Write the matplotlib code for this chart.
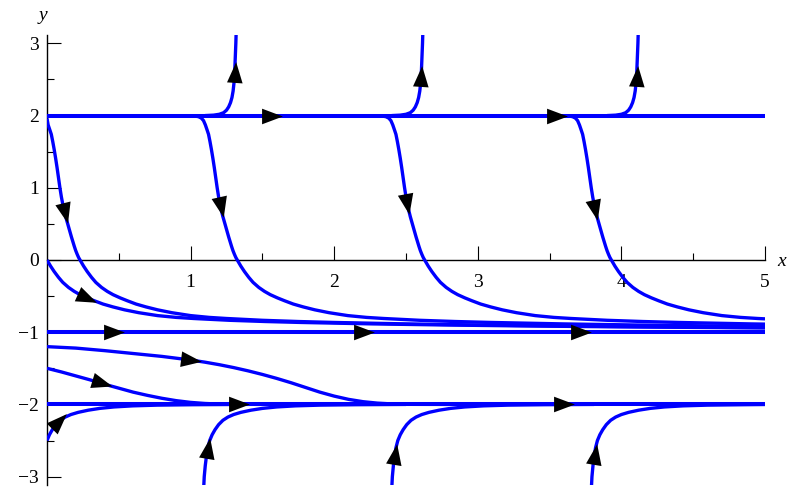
import numpy as np
import matplotlib
matplotlib.use("Agg")
import matplotlib.pyplot as plt
from matplotlib.markers import MarkerStyle
from matplotlib.transforms import Affine2D

# equilibrium solutions (horizontal lines)
eq_levels = [2, -1, -2]

# solution curves
# curves leaving y = 2 and falling towards y = -1
d1_x = [0, 0.008, 0.02, 0.03, 0.04, 0.05, 0.06, 0.07, 0.08, 0.09, 0.1, 0.11, 0.12, 0.13, 0.14, 0.15, 0.16,
        0.17, 0.18, 0.19, 0.2, 0.21, 0.22, 0.23,
        0.255, 0.28, 0.31, 0.34, 0.38, 0.42, 0.46, 0.51, 0.56, 0.62, 0.69, 0.77, 0.87, 1.0, 1.13, 1.25,
        1.5, 1.75, 2.0, 2.5, 3.0, 3.5, 4.0, 4.5, 5.0]
d1_y = [1.96, 1.87, 1.8, 1.74, 1.64, 1.53, 1.41, 1.28, 1.14, 1.0, 0.875, 0.77, 0.68, 0.6, 0.53, 0.46, 0.39,
        0.32, 0.255, 0.19, 0.13, 0.08, 0.035, 0,
        -0.085, -0.16, -0.24, -0.31, -0.38, -0.435, -0.48, -0.525, -0.565, -0.61, -0.65, -0.69, -0.73, -0.77,
        -0.795, -0.81, -0.835, -0.852, -0.865, -0.885, -0.9, -0.912, -0.922, -0.93, -0.937]

d2_x = [0.97, 1.025, 1.055, 1.075, 1.09, 1.103, 1.115, 1.125, 1.135, 1.145, 1.155, 1.165, 1.175,
        1.185, 1.195, 1.205, 1.215, 1.225, 1.235, 1.245, 1.255, 1.265, 1.275, 1.285, 1.295, 1.305, 1.315,
        1.325,
        1.35, 1.375, 1.405, 1.435, 1.475, 1.515, 1.555, 1.605, 1.655, 1.715, 1.785, 1.865, 1.965, 2.095,
        2.225, 2.345, 2.595, 2.845, 3.095, 3.595, 4.095, 4.595, 5.0]
d2_y = [1.999, 1.995, 1.985, 1.965, 1.93, 1.87, 1.8, 1.74, 1.64, 1.53, 1.41, 1.28, 1.14, 1.0, 0.875,
        0.77, 0.68, 0.6, 0.53, 0.46, 0.39, 0.32, 0.255, 0.19, 0.13, 0.08, 0.035, 0,
        -0.085, -0.16, -0.24, -0.31, -0.38, -0.435, -0.48, -0.525, -0.565, -0.61, -0.65, -0.69, -0.73, -0.77,
        -0.795, -0.81, -0.835, -0.852, -0.865, -0.885, -0.9, -0.912, -0.92]

d3_x = [2.275, 2.33, 2.36, 2.38, 2.395, 2.408, 2.42, 2.43, 2.44, 2.45, 2.46, 2.47, 2.48, 2.49, 2.5,
        2.51, 2.52, 2.53, 2.54, 2.55, 2.56, 2.57, 2.58, 2.59, 2.6, 2.61, 2.62, 2.63,
        2.655, 2.68, 2.71, 2.74, 2.78, 2.82, 2.86, 2.91, 2.96, 3.02, 3.09, 3.17, 3.27, 3.4, 3.53, 3.65,
        3.9, 4.15, 4.4, 4.9, 5.0]
d3_y = [1.999, 1.995, 1.985, 1.965, 1.93, 1.87, 1.8, 1.74, 1.64, 1.53, 1.41, 1.28, 1.14, 1.0, 0.875,
        0.77, 0.68, 0.6, 0.53, 0.46, 0.39, 0.32, 0.255, 0.19, 0.13, 0.08, 0.035, 0,
        -0.085, -0.16, -0.24, -0.31, -0.38, -0.435, -0.48, -0.525, -0.565, -0.61, -0.65, -0.69, -0.73, -0.77,
        -0.795, -0.81, -0.835, -0.852, -0.865, -0.885, -0.888]

d4_x = [3.575, 3.63, 3.66, 3.68, 3.695, 3.708, 3.72, 3.73, 3.74, 3.75, 3.76, 3.77, 3.78, 3.79, 3.8,
        3.81, 3.82, 3.83, 3.84, 3.85, 3.86, 3.87, 3.88, 3.89, 3.9, 3.91, 3.92, 3.93,
        3.955, 3.98, 4.01, 4.04, 4.08, 4.12, 4.16, 4.21, 4.26, 4.32, 4.39, 4.47, 4.57, 4.7, 4.83, 4.95, 5.0]
d4_y = [1.999, 1.995, 1.985, 1.965, 1.93, 1.87, 1.8, 1.74, 1.64, 1.53, 1.41, 1.28, 1.14, 1.0, 0.875,
        0.77, 0.68, 0.6, 0.53, 0.46, 0.39, 0.32, 0.255, 0.19, 0.13, 0.08, 0.035, 0,
        -0.085, -0.16, -0.24, -0.31, -0.38, -0.435, -0.48, -0.525, -0.565, -0.61, -0.65, -0.69, -0.73, -0.77,
        -0.795, -0.81, -0.815]

# curve from the origin towards y = -1
a_x = [0, 0.025, 0.05, 0.08, 0.11, 0.15, 0.19, 0.23, 0.28, 0.33, 0.39, 0.46, 0.54, 0.64, 0.77, 0.9, 1.02,
       1.27, 1.52, 1.77, 2.27, 2.77, 3.27, 3.77, 4.27, 4.77, 5.0]
a_y = [0, -0.085, -0.16, -0.24, -0.31, -0.38, -0.435, -0.48, -0.525, -0.565, -0.61, -0.65, -0.69, -0.73,
       -0.77, -0.795, -0.81, -0.835, -0.852, -0.865, -0.885, -0.9, -0.912, -0.922, -0.93, -0.937, -0.94]

# curves leaving y = 2 upwards
u1_x = [1.1, 1.16, 1.2, 1.23, 1.25, 1.265, 1.278, 1.288, 1.296, 1.302, 1.307, 1.311, 1.315, 1.318]
u1_y = [2.0, 2.006, 2.018, 2.04, 2.075, 2.12, 2.18, 2.25, 2.34, 2.45, 2.6, 2.8, 3.0, 3.2]
u2_x = [2.4, 2.46, 2.5, 2.53, 2.55, 2.565, 2.578, 2.588, 2.596, 2.602, 2.607, 2.611, 2.615, 2.618]
u2_y = [2.0, 2.006, 2.018, 2.04, 2.075, 2.12, 2.18, 2.25, 2.34, 2.45, 2.6, 2.8, 3.0, 3.2]
u3_x = [3.9, 3.96, 4.0, 4.03, 4.05, 4.065, 4.078, 4.088, 4.096, 4.102, 4.107, 4.111, 4.115, 4.118]
u3_y = [2.0, 2.006, 2.018, 2.04, 2.075, 2.12, 2.18, 2.25, 2.34, 2.45, 2.6, 2.8, 3.0, 3.2]

# curves between y = -1 and y = -2
m1_x = [0, 0.2, 0.4, 0.6, 0.8, 1.0, 1.1, 1.2, 1.3, 1.4, 1.5, 1.6, 1.7, 1.8, 1.9, 2.0, 2.1, 2.2, 2.3, 2.4,
        2.55, 2.8]
m1_y = [-1.2, -1.22, -1.255, -1.295, -1.335, -1.385, -1.415, -1.45, -1.49, -1.535, -1.585, -1.64, -1.7,
        -1.765, -1.83, -1.885, -1.93, -1.962, -1.982, -1.993, -1.999, -2.0]
m2_x = [0, 0.1, 0.2, 0.3, 0.4, 0.5, 0.6, 0.7, 0.8, 0.9, 1.0, 1.1, 1.2, 1.35, 1.6]
m2_y = [-1.5, -1.55, -1.605, -1.66, -1.72, -1.775, -1.83, -1.875, -1.915, -1.948, -1.972, -1.987, -1.995,
        -1.999, -2.0]

# curves rising from below towards y = -2
b1_x = [0, 0.017, 0.037, 0.062, 0.092, 0.127, 0.167, 0.217, 0.287, 0.367, 0.467, 0.597, 0.767, 1.017, 1.367]
b1_y = [-2.5, -2.42, -2.35, -2.28, -2.22, -2.175, -2.14, -2.11, -2.08, -2.055, -2.035, -2.02, -2.01, -2.004,
        -2.0]
b2_x = [1.09, 1.095, 1.102, 1.11, 1.12, 1.133, 1.15, 1.17, 1.195, 1.225, 1.26, 1.3, 1.35, 1.42, 1.5, 1.6,
        1.73, 1.9, 2.15, 2.5]
b2_y = [-3.2, -3.0, -2.85, -2.72, -2.6, -2.5, -2.42, -2.35, -2.28, -2.22, -2.175, -2.14, -2.11, -2.08, -2.055,
        -2.035, -2.02, -2.01, -2.004, -2.0]
b3_x = [2.4, 2.405, 2.412, 2.42, 2.43, 2.443, 2.46, 2.48, 2.505, 2.535, 2.57, 2.61, 2.66, 2.73, 2.81, 2.91,
        3.04, 3.21, 3.46, 3.81]
b3_y = [-3.2, -3.0, -2.85, -2.72, -2.6, -2.5, -2.42, -2.35, -2.28, -2.22, -2.175, -2.14, -2.11, -2.08, -2.055,
        -2.035, -2.02, -2.01, -2.004, -2.0]
b4_x = [3.79, 3.795, 3.802, 3.81, 3.82, 3.833, 3.85, 3.87, 3.895, 3.925, 3.96, 4.0, 4.05, 4.12, 4.2, 4.3,
        4.43, 4.6, 4.85, 5.0]
b4_y = [-3.2, -3.0, -2.85, -2.72, -2.6, -2.5, -2.42, -2.35, -2.28, -2.22, -2.175, -2.14, -2.11, -2.08, -2.055,
        -2.035, -2.02, -2.01, -2.004, -2.001]

x_ticks = [1, 2, 3, 4, 5]
y_ticks = [-3, -2, -1, 0, 1, 2, 3]

# where the arrowheads sit: (curve, coordinate used, value)
arrow_specs = [("eq2", "x", 1.57), ("eq2", "x", 3.55),
               ("eq-1", "x", 0.47), ("eq-1", "x", 2.21), ("eq-1", "x", 3.72),
               ("eq-2", "x", 1.34), ("eq-2", "x", 3.6),
               ("u1", "y", 2.6), ("u2", "y", 2.55), ("u3", "y", 2.55),
               ("d1", "y", 0.65), ("d2", "y", 0.74), ("d3", "y", 0.78), ("d4", "y", 0.69),
               ("a", "x", 0.28), ("m1", "x", 1.0), ("m2", "x", 0.38),
               ("b1", "y", -2.23), ("b2", "y", -2.61), ("b3", "y", -2.68), ("b4", "y", -2.68)]

curves = {"d1": (d1_x, d1_y), "d2": (d2_x, d2_y), "d3": (d3_x, d3_y), "d4": (d4_x, d4_y),
          "a": (a_x, a_y), "u1": (u1_x, u1_y), "u2": (u2_x, u2_y), "u3": (u3_x, u3_y),
          "m1": (m1_x, m1_y), "m2": (m2_x, m2_y),
          "b1": (b1_x, b1_y), "b2": (b2_x, b2_y), "b3": (b3_x, b3_y), "b4": (b4_x, b4_y)}
for lev in eq_levels:
    curves["eq%d" % lev] = ([0, 5], [lev, lev])

plt.rcParams['font.family'] = ['Liberation Serif', 'DejaVu Serif']
fig = plt.figure(figsize=(7.87, 4.90), dpi=100)
ax = fig.add_axes([47 / 787, 5 / 490, 718 / 787, 450 / 490])
ax.set_xlim(0, 5)
ax.set_ylim(-3.116, 3.116)

blue = '#0000ff'
for key, (xs, ys) in curves.items():
    lw = 2.9 if key.startswith("eq") else 2.4
    ax.plot(xs, ys, color=blue, lw=lw, solid_capstyle='butt', solid_joinstyle='round')

# axes through the origin
for s in ['top', 'right']:
    ax.spines[s].set_visible(False)
ax.spines['left'].set_position(('data', 0))
ax.spines['bottom'].set_position(('data', 0))
for s in ['left', 'bottom']:
    ax.spines[s].set_linewidth(1.0)
    ax.spines[s].set_zorder(1)

ax.set_xticks(x_ticks)
ax.set_xticks(np.arange(0.5, 5, 1.0), minor=True)
ax.set_yticks(y_ticks)
ax.set_yticks(np.arange(-2.5, 3, 1.0), minor=True)
ax.tick_params(which='major', direction='in', length=10, width=0.8, labelsize=14)
ax.tick_params(which='minor', direction='in', length=5, width=0.8)
ax.tick_params(axis='x', which='major', pad=10)
ax.tick_params(axis='y', which='major', pad=6)

fig.text(777 / 787, 1 - 262 / 490, 'x', ha='left', va='center', fontsize=14, style='italic')
fig.text(43 / 787, 1 - 15 / 490, 'y', ha='center', va='center', fontsize=14, style='italic')

# arrowheads along the curves
head = [(1, 0), (-1, 0.75), (-1, -0.75), (1, 0)]
for key, axis, val in arrow_specs:
    xs, ys = np.asarray(curves[key][0], float), np.asarray(curves[key][1], float)
    c = xs if axis == "x" else ys
    for i in range(len(c) - 1):
        lo, hi = sorted((c[i], c[i + 1]))
        if lo <= val <= hi and c[i] != c[i + 1]:
            t = (val - c[i]) / (c[i + 1] - c[i])
            px = xs[i] + t * (xs[i + 1] - xs[i])
            py = ys[i] + t * (ys[i + 1] - ys[i])
            p0 = ax.transData.transform((xs[i], ys[i]))
            p1 = ax.transData.transform((xs[i + 1], ys[i + 1]))
            ang = np.degrees(np.arctan2(p1[1] - p0[1], p1[0] - p0[0]))
            ax.plot(px, py, marker=MarkerStyle(head, transform=Affine2D().rotate_deg(ang)),
                    ms=15, color='black', mec='none', zorder=5)
            break

fig.savefig("out.png", dpi=100)
